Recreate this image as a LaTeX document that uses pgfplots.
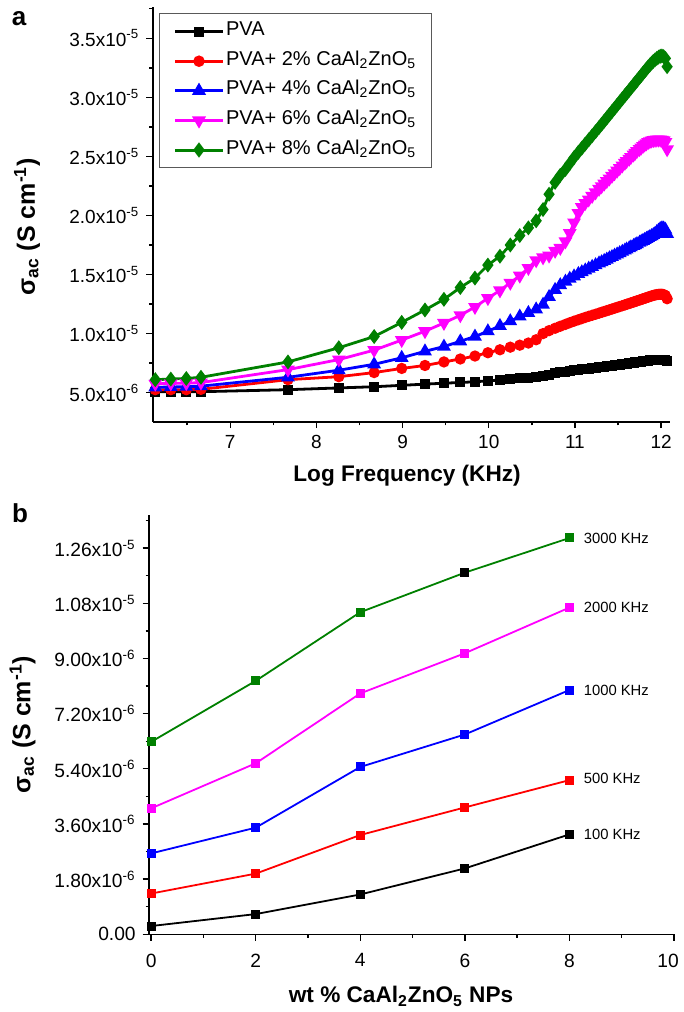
\documentclass[border=0pt]{standalone}
\usepackage{fontspec}
\setmainfont{Liberation Sans}
\usepackage{pgfplots}
\usepackage{pgfplotstable}
\pgfplotsset{compat=1.18}

\definecolor{cgreen}{RGB}{0,128,0}
\definecolor{cmag}{RGB}{255,0,255}
\definecolor{cred}{RGB}{255,0,0}
\definecolor{cblue}{RGB}{0,0,255}

\tikzset{freq/.style={font=\fontsize{7.4}{8.5}\selectfont, anchor=west, inner sep=0pt, xshift=7pt}}

% AC conductivity (units of 1e-6 S/cm) against log frequency
\pgfplotstableread{
x     s0    s2     s4     s6     s8
6.13  5.08  5.25   5.45   5.75   6.10
6.31  5.08  5.25   5.48   5.78   6.15
6.49  5.08  5.25   5.50   5.80   6.20
6.66  5.08  5.28   5.55   5.85   6.30
7.67  5.25  6.10   6.30   6.95   7.60
8.26  5.40  6.35   6.90   7.80   8.80
8.67  5.50  6.70   7.40   8.60   9.75
8.99  5.62  7.05   7.95   9.45   10.95
9.26  5.72  7.30   8.50   10.20  12.00
9.48  5.80  7.60   8.90   10.90  12.90
9.67  5.86  7.85   9.35   11.55  13.90
9.84  5.92  8.10   9.75   12.25  14.70
9.99  6.00  8.38   10.20  13.00  15.80
10.13 6.07  8.63   10.65  13.65  16.55
10.25 6.13  8.85   11.05  14.30  17.50
10.36 6.20  9.02   11.45  14.90  18.30
10.46 6.27  9.20   11.75  15.55  18.95
10.55 6.33  9.48   12.05  16.20  19.55
10.63 6.40  10.00  12.45  16.45  20.50
10.70 6.52  10.25  13.10  16.60  21.80
10.77 6.63  10.45  13.70  17.00  22.80
10.83 6.72  10.62  14.10  17.25  23.40
10.89 6.79  10.78  14.40  17.80  23.90
10.94 6.84  10.92  14.65  18.50  24.40
10.99 6.89  11.05  14.85  19.40  24.90
11.04 6.93  11.17  15.05  20.20  25.35
11.08 6.97  11.27  15.20  20.70  25.70
11.12 7.00  11.37  15.35  21.05  26.05
11.16 7.04  11.46  15.50  21.35  26.40
11.20 7.07  11.55  15.65  21.65  26.75
11.24 7.11  11.64  15.80  21.95  27.10
11.28 7.14  11.73  15.95  22.25  27.45
11.31 7.17  11.80  16.05  22.47  27.72
11.34 7.20  11.87  16.16  22.69  27.99
11.37 7.23  11.94  16.27  22.91  28.26
11.40 7.26  12.01  16.38  23.13  28.53
11.43 7.29  12.08  16.49  23.35  28.80
11.46 7.32  12.15  16.60  23.57  29.07
11.49 7.35  12.22  16.71  23.79  29.34
11.52 7.38  12.29  16.82  24.01  29.61
11.55 7.41  12.36  16.93  24.23  29.88
11.58 7.44  12.43  17.04  24.45  30.15
11.60 7.46  12.48  17.12  24.60  30.33
11.63 7.49  12.55  17.23  24.80  30.60
11.65 7.51  12.60  17.31  24.95  30.78
11.68 7.54  12.67  17.42  25.15  31.05
11.70 7.56  12.72  17.50  25.30  31.23
11.72 7.58  12.77  17.58  25.45  31.41
11.75 7.61  12.84  17.70  25.62  31.68
11.77 7.63  12.89  17.78  25.75  31.86
11.79 7.65  12.94  17.86  25.88  32.04
11.81 7.67  12.99  17.94  26.00  32.22
11.83 7.69  13.04  18.02  26.10  32.40
11.85 7.71  13.09  18.10  26.20  32.58
11.87 7.73  13.14  18.18  26.28  32.74
11.89 7.74  13.19  18.26  26.34  32.90
11.91 7.75  13.23  18.35  26.38  33.05
11.93 7.76  13.27  18.45  26.40  33.18
11.95 7.77  13.30  18.60  26.42  33.30
11.97 7.78  13.32  18.72  26.42  33.40
11.99 7.78  13.33  18.85  26.42  33.48
12.01 7.78  13.33  18.92  26.40  33.50
12.03 7.78  13.30  18.90  26.35  33.45
12.05 7.77  13.22  18.80  26.20  33.30
12.07 7.70  12.95  18.45  25.60  32.60
}\acdata

% AC conductivity (units of 1e-6 S/cm) against filler content
\pgfplotstableread{
wt  f100  f500  f1000  f2000  f3000
0   0.27  1.33  2.64   4.11   6.28
2   0.66  1.98  3.48   5.58   8.27
4   1.30  3.24  5.46   7.86   10.51
6   2.15  4.14  6.52   9.17   11.80
8   3.26  5.03  7.97   10.66  12.93
}\wtdata

\pgfplotsset{
  panel/.style={
    scale only axis,
    axis lines*=left,
    axis line style={black, line width=0.8pt},
    tick align=outside,
    major tick length=3.2pt,
    minor tick length=1.8pt,
    every tick/.style={black, line width=0.7pt},
    clip=false,
  },
}

\begin{document}
\begin{tikzpicture}
\path[use as bounding box] (0,0) rectangle (342pt,-506pt);

\node[font=\bfseries\fontsize{13}{15}\selectfont] at (9.5pt,-9.5pt) {a};
\node[font=\bfseries\fontsize{13}{15}\selectfont] at (10pt,-256.5pt) {b};

% ---- panel a ----
\begin{axis}[panel,
  at={(76.35pt,-210.85pt)}, anchor=south west,
  width=258.5pt, height=207.35pt,
  xmin=6.1, xmax=12.1, ymin=2.54, ymax=37.65,
  xtick={7,8,9,10,11,12},
  xticklabels={7,8,9,10,11,12},
  minor xtick={6.5,7.5,8.5,9.5,10.5,11.5},
  ytick={5,10,15,20,25,30,35},
  yticklabels={5.0x10\textsuperscript{-6},1.0x10\textsuperscript{-5},1.5x10\textsuperscript{-5},2.0x10\textsuperscript{-5},2.5x10\textsuperscript{-5},3.0x10\textsuperscript{-5},3.5x10\textsuperscript{-5}},
  minor ytick={7.5,12.5,17.5,22.5,27.5,32.5,37.5},
  tick label style={font=\fontsize{9.5}{11}\selectfont},
  xlabel={Log Frequency (KHz)},
  xlabel style={font=\bfseries\fontsize{11.3}{13}\selectfont, at={(axis description cs:0.492,-0.13)}, anchor=center},
  ylabel={σ\textsubscript{ac} (S cm\textsuperscript{-1})},
  ylabel style={font=\bfseries\fontsize{12.5}{14}\selectfont, at={(axis description cs:-0.243,0.47)}, anchor=center},
  legend style={at={(rel axis cs:0.012,0.985)}, anchor=north west,
    draw=black!65, line width=0.6pt, fill=white,
    font=\fontsize{10}{12}\selectfont,
    nodes={inner ysep=1.5pt, inner xsep=0.8pt, text height=7.4pt, text depth=3.4pt},
    row sep=1pt, inner xsep=7pt, inner ysep=2pt},
  legend cell align=left,
  legend image code/.code={\draw[line width=1.5pt, mark repeat=2, mark phase=2] plot coordinates {(8pt,0pt) (20pt,0pt) (32pt,0pt)};},
  every axis plot/.append style={line width=1.4pt},
]
\addplot[black, mark=square*, mark size=1.8pt, mark options={solid}] table[x=x,y=s0] {\acdata};
\addlegendentry{PVA}
\addplot[cred, mark=*, mark size=2.1pt, mark options={solid}] table[x=x,y=s2] {\acdata};
\addlegendentry{PVA+ 2\% CaAl\textsubscript{2}ZnO\textsubscript{5}}
\addplot[cblue, mark=triangle*, mark size=2.6pt, mark options={solid}] table[x=x,y=s4] {\acdata};
\addlegendentry{PVA+ 4\% CaAl\textsubscript{2}ZnO\textsubscript{5}}
\addplot[cmag, mark=triangle*, mark size=2.6pt, mark options={solid, rotate=180}] table[x=x,y=s6] {\acdata};
\addlegendentry{PVA+ 6\% CaAl\textsubscript{2}ZnO\textsubscript{5}}
\addplot[cgreen, mark=diamond*, mark size=2.6pt, mark options={solid}] table[x=x,y=s8] {\acdata};
\addlegendentry{PVA+ 8\% CaAl\textsubscript{2}ZnO\textsubscript{5}}
\end{axis}

% ---- panel b ----
\begin{axis}[panel,
  at={(74.55pt,-467.15pt)}, anchor=south west,
  width=262.45pt, height=209.65pt,
  xmin=-0.04, xmax=10, ymin=0, ymax=13.68,
  xtick={0,2,4,6,8,10},
  xticklabels={0,2,4,6,8,\hspace*{-6pt}10},
  minor xtick={1,3,5,7,9},
  ytick={0,1.8,3.6,5.4,7.2,9,10.8,12.6},
  yticklabels={0.00,1.80x10\textsuperscript{-6},3.60x10\textsuperscript{-6},5.40x10\textsuperscript{-6},7.20x10\textsuperscript{-6},9.00x10\textsuperscript{-6},1.08x10\textsuperscript{-5},1.26x10\textsuperscript{-5}},
  minor ytick={0.9,2.7,4.5,6.3,8.1,9.9,11.7,13.5},
  tick label style={font=\fontsize{9.6}{11}\selectfont},
  xticklabel style={yshift=-3pt},
  xlabel={wt \% CaAl\textsubscript{2}ZnO\textsubscript{5} NPs},
  xlabel style={font=\bfseries\fontsize{11.3}{13}\selectfont, at={(axis description cs:0.48,-0.148)}, anchor=center},
  ylabel={σ\textsubscript{ac} (S cm\textsuperscript{-1})},
  ylabel style={font=\bfseries\fontsize{12.5}{14}\selectfont, at={(axis description cs:-0.241,0.5)}, anchor=center},
  every axis plot/.append style={line width=0.9pt},
]
\addplot[black, mark=square*, mark size=1.8pt, mark options={solid}] table[x=wt,y=f100] {\wtdata};
\addplot[cred, mark=square*, mark size=1.8pt, mark options={solid}] table[x=wt,y=f500] {\wtdata};
\addplot[cblue, mark=square*, mark size=1.8pt, mark options={solid}] table[x=wt,y=f1000] {\wtdata};
\addplot[cmag, mark=square*, mark size=1.8pt, mark options={solid}] table[x=wt,y=f2000] {\wtdata};
\addplot[cgreen, mark=square*, mark size=1.8pt, mark options={solid}] table[x=wt,y=f3000] {\wtdata};
\addplot[only marks, black, mark=square*, mark size=1.8pt] coordinates {(6,11.80)};
\node[freq] at (axis cs:8,12.93) {3000 KHz};
\node[freq] at (axis cs:8,10.66) {2000 KHz};
\node[freq] at (axis cs:8,7.97) {1000 KHz};
\node[freq] at (axis cs:8,5.10) {500 KHz};
\node[freq] at (axis cs:8,3.26) {100 KHz};
\end{axis}
\end{tikzpicture}
\end{document}
